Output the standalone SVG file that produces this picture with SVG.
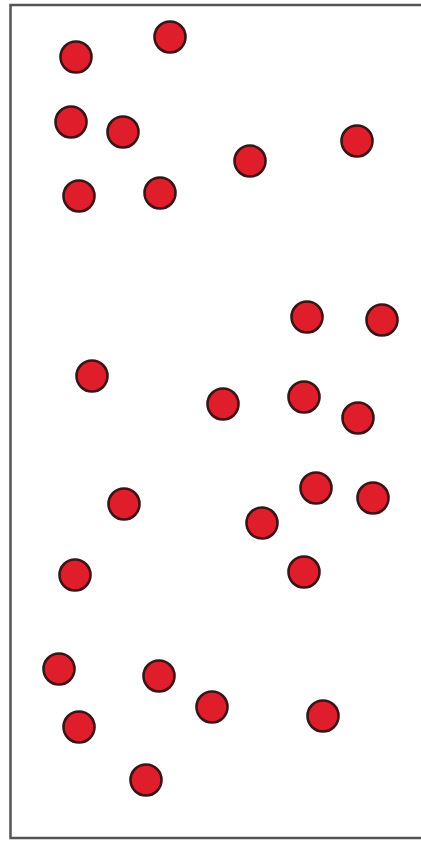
<svg xmlns="http://www.w3.org/2000/svg" width="421" height="841" viewBox="0 0 421 841">
<style>
.d{fill:#e01e2b;stroke:#3a1416;stroke-width:2.6}
.b{fill:none;stroke:#555;stroke-width:2.5}
</style>
<rect width="421" height="841" fill="#fff"/>
<path class="b" d="M421 5 H10.5 V838 H421"/>
<g id="dots">
<circle class="d" cx="76" cy="57" r="15.5"/>
<circle class="d" cx="170" cy="37" r="15.5"/>
<circle class="d" cx="71" cy="122" r="15.5"/>
<circle class="d" cx="123" cy="132" r="15.5"/>
<circle class="d" cx="357" cy="141" r="15.5"/>
<circle class="d" cx="250" cy="161" r="15.5"/>
<circle class="d" cx="79" cy="196" r="15.5"/>
<circle class="d" cx="160" cy="193" r="15.5"/>
<circle class="d" cx="307" cy="317" r="15.5"/>
<circle class="d" cx="382" cy="320" r="15.5"/>
<circle class="d" cx="92" cy="376" r="15.5"/>
<circle class="d" cx="223" cy="404" r="15.5"/>
<circle class="d" cx="304" cy="397" r="15.5"/>
<circle class="d" cx="358" cy="418" r="15.5"/>
<circle class="d" cx="124" cy="504" r="15.5"/>
<circle class="d" cx="316" cy="488" r="15.5"/>
<circle class="d" cx="373" cy="498" r="15.5"/>
<circle class="d" cx="262" cy="523" r="15.5"/>
<circle class="d" cx="75" cy="575" r="15.5"/>
<circle class="d" cx="304" cy="572" r="15.5"/>
<circle class="d" cx="59" cy="669" r="15.5"/>
<circle class="d" cx="159" cy="676" r="15.5"/>
<circle class="d" cx="212" cy="707" r="15.5"/>
<circle class="d" cx="323" cy="716" r="15.5"/>
<circle class="d" cx="79" cy="727" r="15.5"/>
<circle class="d" cx="146" cy="780" r="15.5"/>
</g>
</svg>
